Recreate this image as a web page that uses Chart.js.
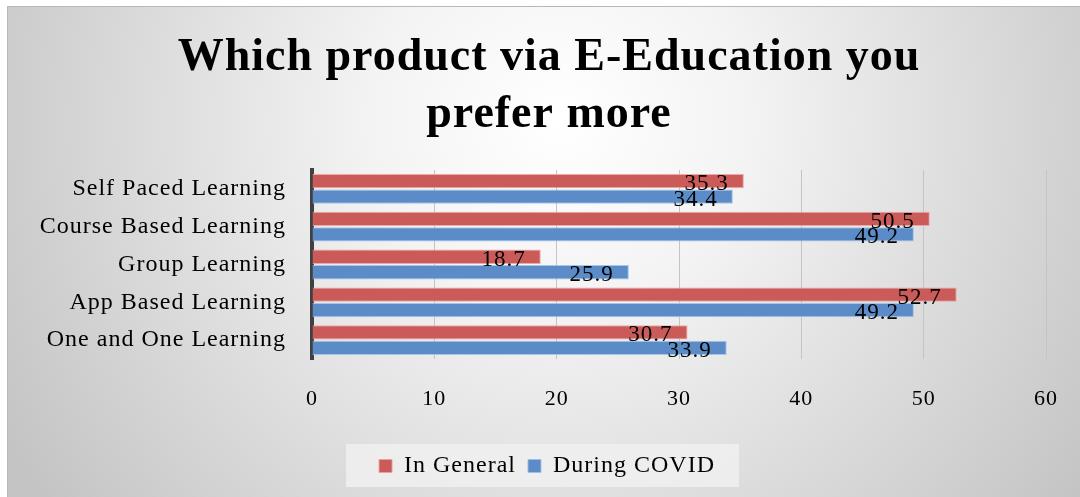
<!DOCTYPE html>
<html>
<head>
<meta charset="utf-8">
<title>E-Education preference</title>
<script src="https://cdn.jsdelivr.net/npm/chart.js@4/dist/chart.umd.min.js"></script>
<style>
    html, body { margin: 0; padding: 0; background: #fff; }
    #wrap { width: 1080px; height: 497px; }
</style>
</head>
<body>
<div id="wrap"><canvas id="pref-chart" width="1080" height="497"></canvas></div>
<script>
/* ── Data ── */
const categories = [
    'Self Paced Learning',
    'Course Based Learning',
    'Group Learning',
    'App Based Learning',
    'One and One Learning'
];
const inGeneral = [35.3, 50.5, 18.7, 52.7, 30.7];
const duringCovid = [34.4, 49.2, 25.9, 49.2, 33.9];
const seriesNames = ['In General', 'During COVID'];
const titleLines = ['Which product via E-Education you', 'prefer more'];
const xMin = 0, xMax = 60, xStep = 10;

const SERIF = "'Liberation Serif', 'Times New Roman', serif";

/* ── Slightly looser text tracking everywhere ── */
const tracking = {
    id: 'tracking',
    beforeLayout(chart) { chart.ctx.letterSpacing = '1px'; },
    beforeDraw(chart) { chart.ctx.letterSpacing = '1px'; }
};

/* ── Centre title and legend on the whole frame rather than the padded box ── */
const recenter = {
    id: 'recenter',
    afterLayout(chart) {
        const shift = (box, dx) => {
            if (!box) return;
            box.left += dx;
            box.right += dx;
        };
        shift(chart.titleBlock, 22);
        shift(chart.legend, 20);
    }
};

/* ── Grey gradient backdrop with a thin frame ── */
const backdrop = {
    id: 'backdrop',
    beforeDraw(chart) {
        const { ctx, width, height } = chart;
        ctx.save();
        ctx.fillStyle = '#ffffff';
        ctx.fillRect(0, 0, width, height);
        const g = ctx.createRadialGradient(560, 120, 0, 560, 120, 640);
        g.addColorStop(0, '#ffffff');
        g.addColorStop(0.3, '#f3f3f3');
        g.addColorStop(1, '#c4c4c4');
        ctx.fillStyle = g;
        ctx.fillRect(7, 6, width - 7, height - 6);
        ctx.strokeStyle = '#b8b8b8';
        ctx.lineWidth = 1;
        ctx.beginPath();
        ctx.moveTo(7.5, height);
        ctx.lineTo(7.5, 6.5);
        ctx.lineTo(width, 6.5);
        ctx.stroke();

        // light panel behind the legend entries
        const boxes = chart.legend && chart.legend.legendHitBoxes;
        if (boxes && boxes.length) {
            const left = Math.min(...boxes.map(b => b.left)) - 33;
            const right = Math.max(...boxes.map(b => b.left + b.width)) + 24;
            const top = chart.legend.top + 2;
            const bottom = chart.legend.bottom - 1;
            ctx.fillStyle = 'rgba(240,240,240,0.85)';
            ctx.fillRect(left, top, right - left, bottom - top);
        }
        ctx.restore();
    }
};

/* ── Value labels just inside the bar ends ── */
const valueLabels = {
    id: 'valueLabels',
    afterDatasetsDraw(chart) {
        const { ctx } = chart;
        ctx.save();
        ctx.font = `23px ${SERIF}`;
        ctx.fillStyle = '#000';
        ctx.textAlign = 'right';
        ctx.textBaseline = 'middle';
        chart.data.datasets.forEach((ds, i) => {
            chart.getDatasetMeta(i).data.forEach((bar, j) => {
                ctx.fillText(String(ds.data[j]), bar.x - 15, bar.y + 3);
            });
        });
        ctx.restore();
    }
};

new Chart(document.getElementById('pref-chart'), {
    type: 'bar',
    data: {
        labels: categories,
        datasets: [
            {
                label: seriesNames[0],
                data: inGeneral,
                backgroundColor: '#CA5B59',
                borderColor: 'rgba(236,160,158,0.9)',
                borderWidth: 1,
                barPercentage: 0.92,
                categoryPercentage: 0.82
            },
            {
                label: seriesNames[1],
                data: duringCovid,
                backgroundColor: '#5B8CC8',
                borderColor: 'rgba(160,192,232,0.9)',
                borderWidth: 1,
                barPercentage: 0.92,
                categoryPercentage: 0.82
            }
        ]
    },
    options: {
        indexAxis: 'y',
        responsive: false,
        animation: false,
        devicePixelRatio: 1,
        layout: { padding: { left: 8, right: 34, top: 0, bottom: 9 } },
        plugins: {
            title: {
                display: true,
                text: titleLines,
                color: '#000',
                font: { family: SERIF, size: 46, weight: 'bold', lineHeight: 1.25 },
                padding: { top: 29, bottom: 26 }
            },
            legend: {
                position: 'bottom',
                labels: {
                    color: '#000',
                    font: { family: SERIF, size: 24 },
                    boxWidth: 13,
                    boxHeight: 13,
                    padding: 12
                }
            },
            tooltip: { enabled: false }
        },
        scales: {
            x: {
                min: xMin,
                max: xMax,
                ticks: {
                    stepSize: xStep,
                    color: '#000',
                    font: { family: SERIF, size: 22 },
                    padding: 27
                },
                grid: {
                    color: (c) => (c.tick && c.tick.value === 0 ? 'rgba(0,0,0,0)' : '#c4c4c4'),
                    drawTicks: false
                },
                border: { display: false },
                afterFit: (scale) => {
                    scale.height = 83;
                    scale.paddingLeft = 0;
                    scale.paddingRight = 0;
                }
            },
            y: {
                ticks: {
                    color: '#000',
                    font: { family: SERIF, size: 24 },
                    padding: 26
                },
                grid: { display: false, drawTicks: false },
                border: { display: true, color: '#404040', width: 4 },
                afterFit: (scale) => { scale.width = 304; }
            }
        }
    },
    plugins: [tracking, recenter, backdrop, valueLabels]
});
</script>
</body>
</html>
